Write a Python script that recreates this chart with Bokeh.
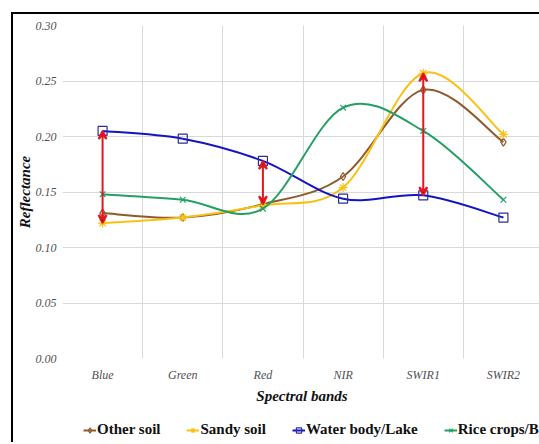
from bokeh.plotting import figure
from bokeh.layouts import column
from bokeh.models import (FixedTicker, Range1d, Legend, LegendItem, Arrow, VeeHead,
                          PrintfTickFormatter, ColumnDataSource)
from bokeh.embed import file_html
from bokeh.resources import INLINE

# Spectral reflectance per band for four land-cover classes
bands = ["Blue", "Green", "Red", "NIR", "SWIR1", "SWIR2"]
other_soil = [0.131, 0.127, 0.139, 0.164, 0.242, 0.195]
sandy_soil = [0.122, 0.127, 0.138, 0.154, 0.257, 0.202]
water_lake = [0.205, 0.198, 0.178, 0.144, 0.147, 0.127]
rice_bush = [0.148, 0.143, 0.135, 0.226, 0.205, 0.143]

y_ticks = [0.0, 0.05, 0.10, 0.15, 0.20, 0.25, 0.30]

# separability arrows: (band, upper series, lower series)
arrow_pairs = [("Blue", "Water body/Lake", "Sandy soil"),
               ("Red", "Water body/Lake", "Other soil"),
               ("SWIR1", "Sandy soil", "Water body/Lake")]

series = [
    ("Other soil", other_soil, "#8E5A2C", "diamond", "#8E5A2C", 8),
    ("Sandy soil", sandy_soil, "#F9C116", "asterisk", "#F9C116", 9),
    ("Water body/Lake", water_lake, "#1414C4", "square", "#2E2E9A", 9),
    ("Rice crops/Bush", rice_bush, "#24A063", "x", "#24A063", 8),
]
values = {name: vals for name, vals, *_ in series}

SERIF = "Liberation Serif"
xc = [i + 0.5 for i in range(len(bands))]

# main chart
p = figure(width=528, height=405, output_backend="svg", toolbar_location=None,
           x_range=Range1d(0, 5.975), y_range=Range1d(0, 0.30),
           min_border_left=40, min_border_right=0, min_border_top=11,
           min_border_bottom=61,
           margin=(12, 0, 0, 11),
           styles={"border-left": "2px solid #000", "border-top": "2px solid #000"})
p.outline_line_color = None
p.background_fill_color = "white"
p.border_fill_color = "white"

p.xaxis.ticker = FixedTicker(ticks=xc)
p.xaxis.major_label_overrides = {x: b for x, b in zip(xc, bands)}
p.yaxis.ticker = FixedTicker(ticks=y_ticks)
p.yaxis.formatter = PrintfTickFormatter(format="%.2f")
for ax in (p.xaxis[0], p.yaxis[0]):
    ax.axis_line_color = None
    ax.major_tick_line_color = None
    ax.minor_tick_line_color = None
    ax.major_tick_out = 0
    ax.major_tick_in = 0
    ax.minor_tick_out = 0
    ax.major_label_text_font = SERIF
    ax.major_label_text_font_style = "italic"
    ax.major_label_text_font_size = "12px"
    ax.major_label_text_color = "#505050"
    ax.axis_label_text_font = SERIF
    ax.axis_label_text_font_style = "bold italic"
    ax.axis_label_text_font_size = "15px"
    ax.axis_label_text_color = "#111111"
p.xaxis.axis_label = "Spectral bands"
p.yaxis.axis_label = "Reflectance"
p.xaxis.major_label_standoff = 9
p.xaxis.axis_label_standoff = 3
p.yaxis.major_label_standoff = 6
p.yaxis.axis_label_standoff = 0

# grid: vertical lines between bands, horizontal at ticks
p.xgrid.ticker = FixedTicker(ticks=list(range(len(bands) + 1)))
p.xgrid.grid_line_color = "#D9D9D9"
p.ygrid.grid_line_color = "#D9D9D9"


def smooth_segments(xs, ys):
    """Cubic Bezier control points for a smoothed line through the points."""
    n = len(xs)
    seg = dict(x0=[], y0=[], x1=[], y1=[], cx0=[], cy0=[], cx1=[], cy1=[])
    for i in range(n - 1):
        i0 = max(i - 1, 0)
        i3 = min(i + 2, n - 1)
        seg["x0"].append(xs[i]); seg["y0"].append(ys[i])
        seg["x1"].append(xs[i + 1]); seg["y1"].append(ys[i + 1])
        seg["cx0"].append(xs[i] + (xs[i + 1] - xs[i0]) / 6)
        seg["cy0"].append(ys[i] + (ys[i + 1] - ys[i0]) / 6)
        seg["cx1"].append(xs[i + 1] - (xs[i3] - xs[i]) / 6)
        seg["cy1"].append(ys[i + 1] - (ys[i3] - ys[i]) / 6)
    return seg


for name, vals, color, marker, mcolor, size in series:
    src = ColumnDataSource(smooth_segments(xc, vals))
    p.bezier(x0="x0", y0="y0", x1="x1", y1="y1", cx0="cx0", cy0="cy0",
             cx1="cx1", cy1="cy1", source=src, line_color=color, line_width=2)
    p.scatter(xc, vals, marker=marker, size=size, line_color=mcolor,
              fill_color=None, line_width=1.2)

# red double-headed arrows
for band, upper, lower in arrow_pairs:
    i = bands.index(band)
    arr = Arrow(x_start=xc[i], y_start=values[lower][i], x_end=xc[i], y_end=values[upper][i],
                line_color="#E3171E", line_width=2,
                start=VeeHead(size=8, line_color="#E3171E", line_width=2),
                end=VeeHead(size=8, line_color="#E3171E", line_width=2))
    p.add_layout(arr)

# legend strip underneath the chart
leg = figure(width=528, height=25, output_backend="svg", toolbar_location=None,
             x_range=Range1d(-2, -1), y_range=Range1d(-2, -1),
             x_axis_type=None, y_axis_type=None,
             min_border_left=0, min_border_right=0, min_border_top=0, min_border_bottom=0,
             margin=(0, 0, 0, 11),
             styles={"border-left": "2px solid #000"})
leg.outline_line_color = None
leg.grid.visible = False
leg.background_fill_color = "white"
leg.border_fill_color = "white"

items = []
for name, vals, color, marker, mcolor, size in series:
    ln = leg.line(xc, vals, line_color=color, line_width=2)
    mk = leg.scatter(xc, vals, marker=marker, size=size - 1, line_color=mcolor,
                     fill_color=None, line_width=1.2)
    items.append(LegendItem(label=name, renderers=[ln, mk]))

legend = Legend(items=items, orientation="horizontal", location=(21, 4),
                glyph_width=13, glyph_height=16, label_height=16, label_standoff=1,
                spacing=26, padding=0, margin=0,
                label_text_font=SERIF, label_text_font_style="bold",
                label_text_font_size="15px", label_text_color="#111111",
                border_line_color=None, background_fill_alpha=0)
leg.add_layout(legend)

layout = column(p, leg, spacing=0)
open("out.html", "w").write(file_html(layout, INLINE))
